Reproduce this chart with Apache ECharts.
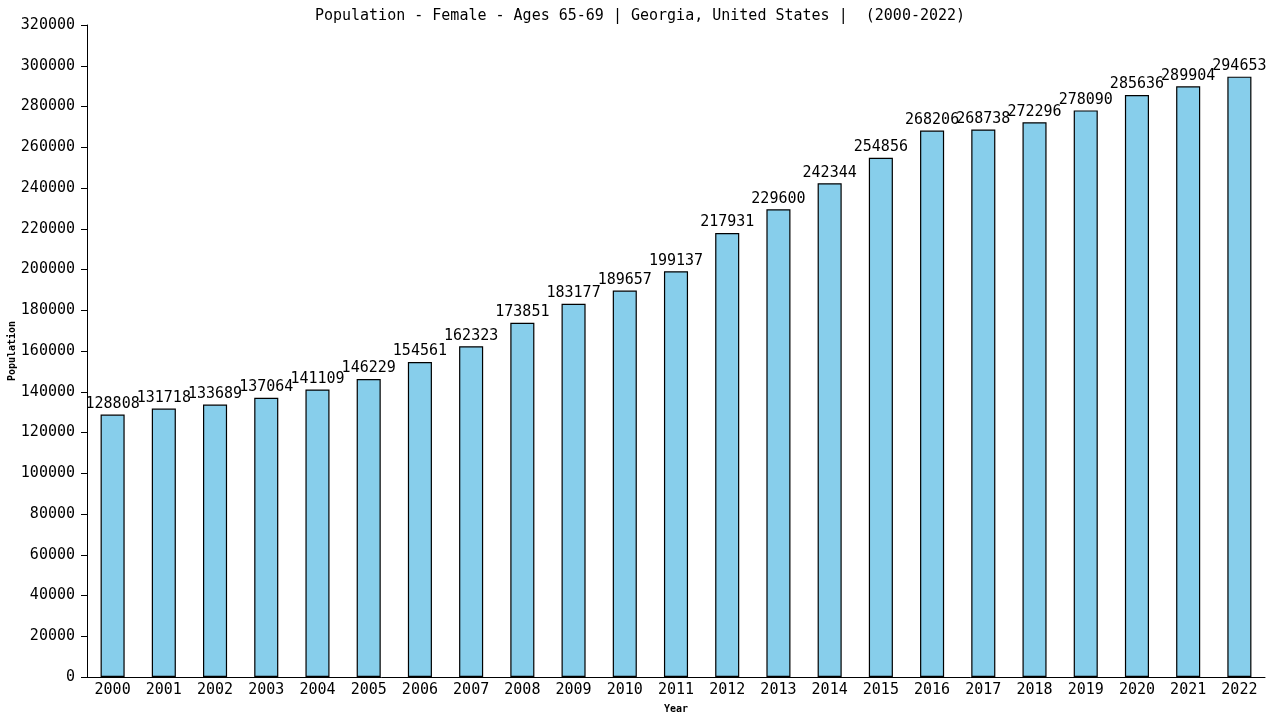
<!DOCTYPE html>
<html>
<head>
<meta charset="utf-8">
<script src="https://cdn.jsdelivr.net/npm/echarts@6/dist/echarts.min.js"></script>
<style>
  html, body { margin: 0; padding: 0; background: #ffffff; }
  #chart { width: 1280px; height: 720px; }
</style>
</head>
<body>
<div id="chart"></div>
<script>
// data
const years = ['2000', '2001', '2002', '2003', '2004', '2005', '2006', '2007', '2008', '2009', '2010', '2011',
  '2012', '2013', '2014', '2015', '2016', '2017', '2018', '2019', '2020', '2021', '2022'];
const population = [128808, 131718, 133689, 137064, 141109, 146229, 154561, 162323, 173851, 183177, 189657, 199137,
  217931, 229600, 242344, 254856, 268206, 268738, 272296, 278090, 285636, 289904, 294653];
const yTicks = { min: 0, max: 320000, step: 20000 };

const mono = 'DejaVu Sans Mono';

const chart = echarts.init(document.getElementById('chart'));
chart.setOption({
  backgroundColor: '#ffffff',
  animation: false,
  title: {
    text: 'Population - Female - Ages 65-69 | Georgia, United States |  (2000-2022)',
    left: 'center',
    top: 4,
    textStyle: { fontFamily: mono, fontSize: 15, fontWeight: 'normal', color: '#000' }
  },
  grid: { left: 87, right: 15, top: 25, bottom: 43, outerBoundsMode: 'none' },
  xAxis: {
    type: 'category',
    data: years,
    name: 'Year',
    nameLocation: 'middle',
    nameGap: 27,
    nameMoveOverlap: false,
    nameTextStyle: { fontFamily: mono, fontSize: 10, fontWeight: 'bold', color: '#000' },
    axisLine: { lineStyle: { color: '#000', width: 1 } },
    axisTick: { show: false },
    axisLabel: { fontFamily: mono, fontSize: 15, color: '#000', margin: 6 }
  },
  yAxis: {
    type: 'value',
    min: yTicks.min,
    max: yTicks.max,
    interval: yTicks.step,
    name: 'Population',
    nameLocation: 'middle',
    nameGap: 70,
    nameMoveOverlap: false,
    nameTextStyle: { fontFamily: mono, fontSize: 10, fontWeight: 'bold', color: '#000' },
    axisLine: { show: true, lineStyle: { color: '#000', width: 1 } },
    axisTick: { show: true, length: 6, lineStyle: { color: '#000' } },
    axisLabel: { fontFamily: mono, fontSize: 15, color: '#000', margin: 12, formatter: v => String(v) },
    splitLine: { show: false }
  },
  series: [{
    type: 'bar',
    data: population,
    barWidth: '47%',
    itemStyle: { color: '#87ceeb', borderColor: '#000', borderWidth: 1.2 },
    label: {
      show: true,
      position: 'top',
      distance: 3,
      fontFamily: mono,
      fontSize: 15,
      color: '#000'
    }
  }]
});
</script>
</body>
</html>
